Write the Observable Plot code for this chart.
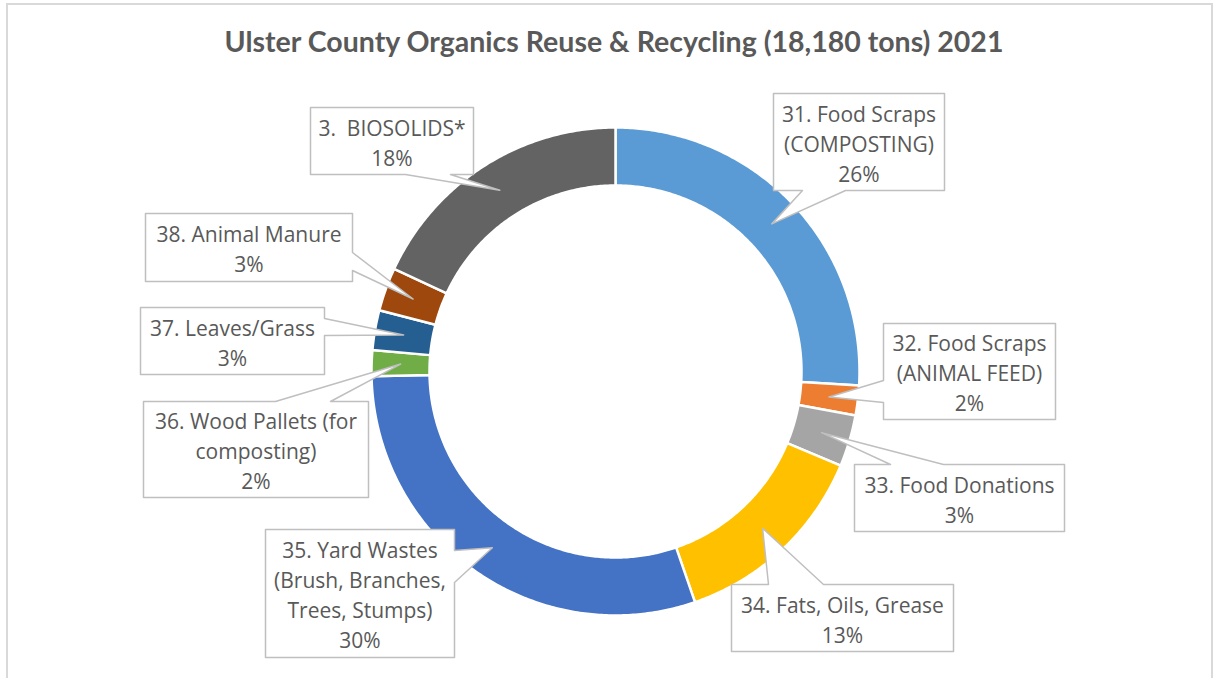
<!DOCTYPE html>
<html><head><meta charset="utf-8">
<script src="https://cdn.jsdelivr.net/npm/d3@7"></script>
<script src="https://cdn.jsdelivr.net/npm/@observablehq/plot@0.6"></script>
<style>
body{margin:0;background:#fff;}
#wrap{position:relative;width:1218px;height:678px;overflow:hidden;background:#fff;}
#frame{position:absolute;left:6px;top:3px;width:1207px;height:700px;border:2px solid #d9d9d9;box-sizing:border-box;}
#title{position:absolute;left:0;top:24px;width:1228px;text-align:center;font-family:Lato,sans-serif;font-weight:bold;font-size:28.5px;color:#595959;white-space:nowrap;}
#chart{position:absolute;left:0;top:0;}
</style></head>
<body>
<div id="wrap"><div id="frame"></div><div id="title">Ulster County Organics Reuse &amp; Recycling (18,180 tons) 2021</div><div id="chart"></div></div>
<script>
// ---- data ----
const categories = [
  "31. Food Scraps\n(COMPOSTING)",
  "32. Food Scraps\n(ANIMAL FEED)",
  "33. Food Donations",
  "34. Fats, Oils, Grease",
  "35. Yard Wastes\n(Brush, Branches,\nTrees, Stumps)",
  "36. Wood Pallets (for\ncomposting)",
  "37. Leaves/Grass",
  "38. Animal Manure",
  "3.  BIOSOLIDS*"
];
const tons = [4710, 360, 620, 2440, 5450, 310, 480, 520, 3290];
const colors = ["#5B9BD5", "#ED7D31", "#A5A5A5", "#FFC000", "#4472C4", "#70AD47", "#255E91", "#9E480E", "#636363"];

// ---- layout (screen px) ----
const CX = 615, CY = 371, R = 244, R0 = 186;
const boxes = [
  {l: 773, t: 93,  r: 944,  b: 190, side: "bottom", p0: 802, p1: 845},
  {l: 883, t: 323, r: 1055, b: 419, side: "left",   p0: 380, p1: 402},
  {l: 854, t: 464, r: 1064, b: 531, side: "top",    p0: 890, p1: 943},
  {l: 731, t: 584, r: 953,  b: 651, side: "top",    p0: 768, p1: 823},
  {l: 265, t: 529, r: 454,  b: 657, side: "right",  p0: 550, p1: 582},
  {l: 143, t: 401, r: 368,  b: 497, side: "top",    p0: 275, p1: 330},
  {l: 140, t: 307, r: 324,  b: 374, side: "right",  p0: 318, p1: 335},
  {l: 145, t: 213, r: 352,  b: 281, side: "right",  p0: 252, p1: 270},
  {l: 310, t: 107, r: 473,  b: 174, side: "bottom", p0: 405, p1: 450}
];

const total = d3.sum(tons);
let cum = 0;
const slices = categories.map((c, i) => {
  const a0 = cum / total * 2 * Math.PI;
  cum += tons[i];
  const a1 = cum / total * 2 * Math.PI;
  return {c, a0, a1, color: colors[i], pct: Math.round(tons[i] / total * 100)};
});

const sliceMarks = slices.map(s => {
  const pts = [];
  const n = Math.max(6, Math.ceil((s.a1 - s.a0) / 0.01));
  for (let k = 0; k <= n; k++) { const a = s.a0 + (s.a1 - s.a0) * k / n; pts.push({x: R * Math.sin(a), y: R * Math.cos(a)}); }
  for (let k = n; k >= 0; k--) { const a = s.a0 + (s.a1 - s.a0) * k / n; pts.push({x: R0 * Math.sin(a), y: R0 * Math.cos(a)}); }
  return Plot.line(pts, {x: "x", y: "y", fill: s.color, stroke: "white", strokeWidth: 2.5, curve: "linear-closed"});
});

const calloutMarks = [];
const labelData = [];
slices.forEach((s, i) => {
  const b = boxes[i];
  const am = (s.a0 + s.a1) / 2, rm = (R + R0) / 2;
  const tip = [rm * Math.sin(am), rm * Math.cos(am)];
  const D = (px, py) => [px - CX, CY - py];
  const pts = [];
  pts.push(D(b.l, b.t));
  if (b.side === "top") pts.push(D(b.p0, b.t), tip, D(b.p1, b.t));
  pts.push(D(b.r, b.t));
  if (b.side === "right") pts.push(D(b.r, b.p0), tip, D(b.r, b.p1));
  pts.push(D(b.r, b.b));
  if (b.side === "bottom") pts.push(D(b.p1, b.b), tip, D(b.p0, b.b));
  pts.push(D(b.l, b.b));
  if (b.side === "left") pts.push(D(b.l, b.p1), tip, D(b.l, b.p0));
  calloutMarks.push(Plot.line(pts, {x: d => d[0], y: d => d[1], fill: "white", stroke: "#bfbfbf", strokeWidth: 1.5, curve: "linear-closed"}));
  const c = D((b.l + b.r) / 2, (b.t + b.b) / 2);
  labelData.push({x: c[0], y: c[1], text: s.c + "\n" + s.pct + "%"});
});

const chart = Plot.plot({
  width: 1218, height: 678, margin: 0,
  x: {domain: [-CX, 1218 - CX], axis: null},
  y: {domain: [CY - 678, CY], axis: null},
  style: {background: "transparent", fontFamily: "'Open Sans', sans-serif"},
  marks: [
    ...sliceMarks,
    ...calloutMarks,
    Plot.text(labelData, {x: "x", y: "y", text: "text", fontSize: 21, lineHeight: 1.43, fill: "#595959"})
  ]
});
document.getElementById("chart").appendChild(chart);
</script>
</body></html>
